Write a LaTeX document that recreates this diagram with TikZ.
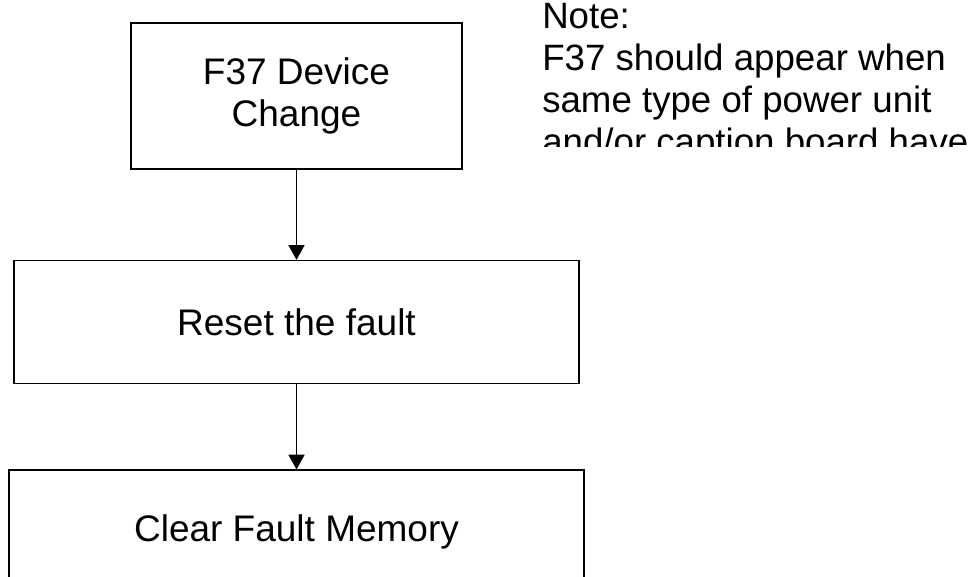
\documentclass[tikz,border=0pt]{standalone}
\usepackage{fontspec}
\setmainfont{Liberation Sans}
\usetikzlibrary{arrows.meta,positioning}

\begin{document}
\begin{tikzpicture}[x=0.75pt, y=-0.75pt, >={Triangle[length=11pt,width=12pt]}, node distance=67.5pt,
    block/.style={draw, line width=1.2pt, align=center, inner sep=0pt, font=\fontsize{27.75}{31.5}\selectfont}]
    % frame of the picture
    \useasboundingbox (0,0) rectangle (977,576);
    \clip (0,0) rectangle (977,576);

    % Nodes {fault, reset, clear}
    \node [block, minimum width=248.25pt, minimum height=109.5pt] (fault) at (296.5,96) {F37 Device\\Change};
    \node [block, minimum width=423.75pt, minimum height=92.25pt] (reset) [below=of fault] {Reset the fault};
    \node [block, minimum width=431.25pt, minimum height=92.25pt] (clear) [below=63.75pt of reset] {Clear Fault Memory};

    % Note, cut off at the bottom
    \begin{scope}
        \clip (530,0) rectangle (977,146);
        \node [anchor=north west, align=left, inner sep=0pt, font=\fontsize{27.5}{31.5}\selectfont] (note) at (542,3)
            {Note:\\F37 should appear when\\same type of power unit\\and/or caption board have};
    \end{scope}

    % Paths
    \path [->, line width=1pt] (fault) edge (reset);
    \path [->, line width=1pt] (reset) edge (clear);
\end{tikzpicture}
\end{document}
